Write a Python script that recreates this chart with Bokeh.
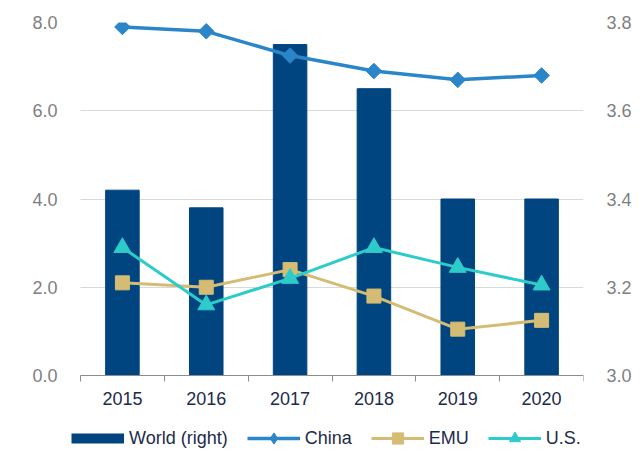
from bokeh.plotting import figure
from bokeh.models import (ColumnDataSource, LinearAxis, Range1d, FixedTicker,
                          PrintfTickFormatter, Legend, LegendItem, Grid)
from bokeh.embed import file_html
from bokeh.resources import INLINE
import math

# ---- data ----
years = ["2015", "2016", "2017", "2018", "2019", "2020"]
world = [3.42, 3.38, 3.75, 3.65, 3.40, 3.40]   # right axis
china = [7.9, 7.8, 7.25, 6.9, 6.7, 6.8]
emu = [2.1, 2.0, 2.4, 1.8, 1.05, 1.25]
us = [2.9, 1.6, 2.2, 2.9, 2.45, 2.05]
left_ticks = [0, 2, 4, 6, 8]
right_ticks = [3.0, 3.2, 3.4, 3.6, 3.8]

n = len(years)
xs = [i + 0.5 for i in range(n)]
src = ColumnDataSource(dict(x=xs, world=world, china=china, emu=emu, us=us))

FONT = "Liberation Sans"
NAVY_TXT = "#1d2b4b"
GRAY_TXT = "#7f7f7f"
AXIS_C = "#8c8c8c"
BAR = "#00457f"
CHINA = "#2b86c9"
EMU_C = "#d5bc74"
US_C = "#2ecbcb"

# layout (pixels): plotting area x 80..583, y 22..375 ; frame extended for legend
W, H = 642, 452
FL, FR, FT, FB = 71, 583, 22, 452
cat_px = (FR - 80) / n
x0 = -(80 - FL) / cat_px
unit_px = (375 - FT) / (left_ticks[-1] - left_ticks[0])
y0 = -(FB - 375) / unit_px
scale_r = (right_ticks[-1] - right_ticks[0]) / (left_ticks[-1] - left_ticks[0])

p = figure(width=W, height=H, output_backend="svg", toolbar_location=None,
           x_axis_location=None, y_axis_location=None,
           x_range=Range1d(x0, n), y_range=Range1d(y0, left_ticks[-1]),
           min_border_left=FL, min_border_right=W - FR, min_border_top=FT, min_border_bottom=0)
p.outline_line_color = None
p.background_fill_color = "white"
p.border_fill_color = "white"
p.extra_y_ranges = {"right": Range1d(right_ticks[0] + y0 * scale_r, right_ticks[-1])}
for r in list(p.center):
    if isinstance(r, Grid):
        r.visible = False

# bars (right axis)
p.vbar(x="x", top="world", bottom=right_ticks[0], width=0.4, source=src,
       y_range_name="right", fill_color=BAR, line_color=BAR)

# lines
cl = p.line("x", "china", source=src, line_color=CHINA, line_width=3.5)
p.scatter("x", "china", source=src, marker="square", angle=math.pi / 4, size=11,
          fill_color=CHINA, line_color=CHINA)
el = p.line("x", "emu", source=src, line_color=EMU_C, line_width=3)
em = p.scatter("x", "emu", source=src, marker="square", size=14,
               fill_color=EMU_C, line_color=EMU_C)
ul = p.line("x", "us", source=src, line_color=US_C, line_width=3)
um = p.scatter("x", "us", source=src, marker="triangle", size=17,
               fill_color=US_C, line_color=US_C)

# legend-only glyphs (NaN data, invisible in plot)
nan = float("nan")
dummy_bar = p.line(x=[nan], y=[nan], line_color=BAR, line_width=10, line_cap="butt")
dummy_dia = p.scatter(x=[nan], y=[nan], marker="diamond", fill_color=CHINA, line_color=CHINA)

# x axis at y = 0
xa = LinearAxis(fixed_location=0, bounds=(0, n))
xa.ticker = FixedTicker(ticks=xs, minor_ticks=list(range(n + 1)))
xa.major_label_overrides = {x: y for x, y in zip(xs, years)}
xa.major_tick_out = 0
xa.major_tick_in = 0
xa.minor_tick_out = 6
xa.minor_tick_in = 0
xa.minor_tick_line_color = AXIS_C
xa.axis_line_color = AXIS_C
xa.major_label_text_font = FONT
xa.major_label_text_font_size = "18px"
xa.major_label_text_color = NAVY_TXT
xa.major_label_standoff = 10
p.add_layout(xa, "below")

# left axis
ya = LinearAxis(ticker=FixedTicker(ticks=left_ticks), formatter=PrintfTickFormatter(format="%.1f"))
ya.axis_line_color = None
ya.major_tick_line_color = None
ya.minor_tick_line_color = None
ya.major_label_text_font = FONT
ya.major_label_text_font_size = "18px"
ya.major_label_text_color = GRAY_TXT
ya.major_label_standoff = 8
p.add_layout(ya, "left")

# right axis
ra = LinearAxis(y_range_name="right", ticker=FixedTicker(ticks=right_ticks),
                formatter=PrintfTickFormatter(format="%.1f"))
ra.axis_line_color = None
ra.major_tick_line_color = None
ra.minor_tick_line_color = None
ra.major_label_text_font = FONT
ra.major_label_text_font_size = "18px"
ra.major_label_text_color = GRAY_TXT
ra.major_label_standoff = 17
p.add_layout(ra, "right")

g = Grid(dimension=1, ticker=FixedTicker(ticks=left_ticks[1:]), cross_bounds=(0, n),
         grid_line_color="#d9d9d9", grid_line_width=1)
p.add_layout(g)

legend = Legend(items=[
    LegendItem(label="World (right)", renderers=[dummy_bar]),
    LegendItem(label="China", renderers=[cl, dummy_dia]),
    LegendItem(label="EMU", renderers=[el, em]),
    LegendItem(label="U.S.", renderers=[ul, um]),
], orientation="horizontal", location=(0, 0))
legend.glyph_width = 53
legend.glyph_height = 28
legend.padding = 0
legend.margin = 0
legend.spacing = 19
legend.label_standoff = 5
legend.label_text_font = FONT
legend.label_text_font_size = "18px"
legend.label_text_color = NAVY_TXT
legend.border_line_color = None
legend.background_fill_alpha = 0
p.add_layout(legend, "center")

open("out.html", "w").write(file_html(p, INLINE))
